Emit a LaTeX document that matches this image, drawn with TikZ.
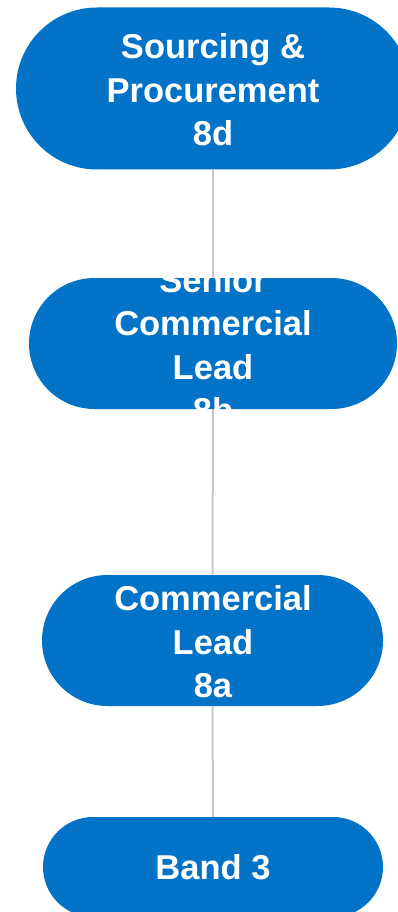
\documentclass[tikz,border=0pt]{standalone}
\usepackage{fontspec}
\setmainfont{Liberation Sans}
\definecolor{pillblue}{RGB}{2,115,198}
\definecolor{linegray}{RGB}{200,200,200}
\tikzset{
  pill/.style n args={3}{fill=pillblue, draw=none, inner sep=0pt, minimum width=#1, minimum height=#2, rounded corners=#3},
  pilltext/.style={text=white, align=center, inner sep=0pt, font=\bfseries\fontsize{34.5}{43.5}\selectfont},
  link/.style={draw=linegray, line width=2pt}
}
\begin{document}
\begin{tikzpicture}[x=1pt,y=-1pt]
\useasboundingbox (0,0) rectangle (398,912);
\node[pill={394pt}{162pt}{81pt}] (n1) at (213,88.5) {};
\node[pill={368pt}{131pt}{65.5pt}] (n2) at (213,343.5) {};
\node[pill={341pt}{131pt}{65.5pt}] (n3) at (212.5,640.5) {};
\node[pill={340pt}{100pt}{50pt}] (n4) at (213,867) {};
\node[pilltext] (t1) at (213,90) {Sourcing \&\\Procurement\\8d};
\node[pilltext] (t2) at (213,345) {Senior\\Commercial\\Lead\\8b};
\node[pilltext] (t3) at (213,642) {Commercial\\Lead\\8a};
\node[pilltext] (t4) at (213,867) {Band 3};
\draw[link] (n1.south) -- (n2.north);
\draw[link] (n2.south) -- (n3.north);
\draw[link] (n3.south) -- (n4.north);
\end{tikzpicture}
\end{document}
